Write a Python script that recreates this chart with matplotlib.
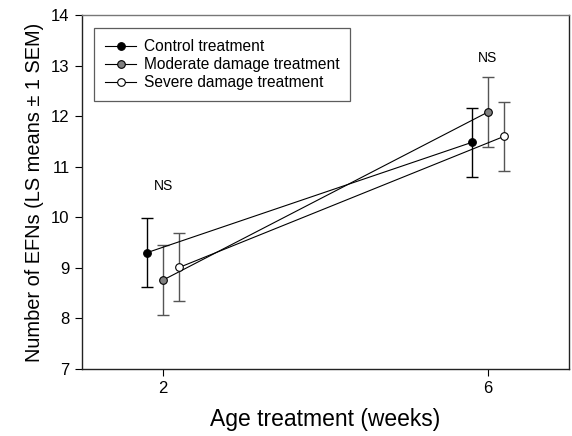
import numpy as np
import matplotlib
matplotlib.use('Agg')
from matplotlib import pyplot as plt

plt.rcParams['font.family'] = ['Liberation Sans', 'DejaVu Sans']

# ages (weeks) and LS means / SEM for each treatment
ages = [2, 6]
offsets = [-0.2, 0.0, 0.2]
labels = ['Control treatment', 'Moderate damage treatment', 'Severe damage treatment']
means_control = [9.30, 11.48]
means_moderate = [8.76, 12.08]
means_severe = [9.01, 11.60]
sem_control = [0.68, 0.68]
sem_moderate = [0.70, 0.69]
sem_severe = [0.67, 0.68]
ns_pos = [(2, 10.62), (6, 13.15)]

face_colors = ['black', '#808080', 'white']
err_colors = ['black', '#555555', '#555555']

fig = plt.figure(figsize=(5.72, 4.36), dpi=100)
ax = fig.add_axes([0.1434, 0.1537, 0.8514, 0.8119])

series = [(means_control, sem_control), (means_moderate, sem_moderate), (means_severe, sem_severe)]
for idx, (m, s) in enumerate(series):
    x = np.array(ages) + offsets[idx]
    ax.errorbar(x, m, yerr=s, fmt='none', ecolor=err_colors[idx], elinewidth=1.0,
                capsize=4, capthick=1.0, zorder=2)
    ax.plot(x, m, color='black', lw=0.8, marker='o', markersize=5.5,
            markerfacecolor=face_colors[idx], markeredgecolor='black',
            markeredgewidth=0.8, label=labels[idx], zorder=3)

for xx, yy in ns_pos:
    ax.text(xx, yy, 'NS', ha='center', va='center', fontsize=10)

ax.set_xlim(1, 7)
ax.set_ylim(7, 14)
ax.set_xticks(ages)
ax.set_yticks(range(7, 15))
ax.tick_params(direction='out', length=5, width=0.8, labelsize=12, pad=4)
for sp in ax.spines.values():
    sp.set_linewidth(1.0)
    sp.set_color('#222222')
ax.spines['top'].set_color('#777777')

ax.set_xlabel('Age treatment (weeks)', fontsize=16.5, labelpad=8)
ax.set_ylabel('Number of EFNs (LS means \u00b1 1 SEM)', fontsize=14.4, labelpad=5)

leg = ax.legend(loc='upper left', bbox_to_anchor=(0.025, 0.963), fontsize=11.2,
                frameon=True, fancybox=False, borderpad=0.7, labelspacing=0.2,
                handlelength=2.0, handletextpad=0.5, borderaxespad=0)
leg.get_frame().set_edgecolor('#333333')
leg.get_frame().set_linewidth(0.9)

fig.savefig('out.png', dpi=100)
